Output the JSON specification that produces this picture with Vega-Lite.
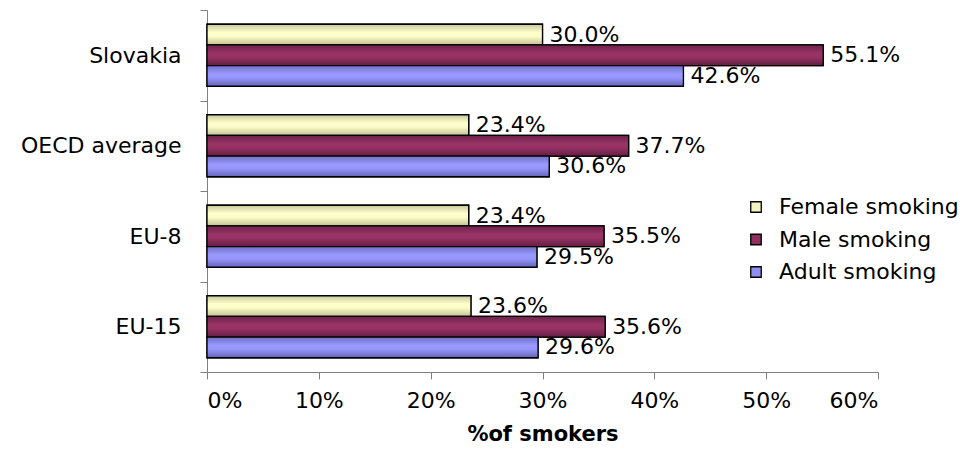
{
  "$schema": "https://vega.github.io/schema/vega-lite/v6.json",
  "width": 671,
  "height": 362,
  "autosize": {"type": "none"},
  "padding": {"left": 207, "top": 10, "right": 89, "bottom": 78},
  "background": "white",
  "config": {
    "view": {"stroke": null},
    "font": "DejaVu Sans",
    "axis": {"labelFont": "DejaVu Sans", "titleFont": "DejaVu Sans", "labelColor": "black", "titleColor": "black"},
    "legend": {"labelFont": "DejaVu Sans"}
  },
  "data": {
    "values": [
      {"region": "Slovakia", "series": "Female smoking", "value": 0.300},
      {"region": "Slovakia", "series": "Male smoking", "value": 0.551},
      {"region": "Slovakia", "series": "Adult smoking", "value": 0.426},
      {"region": "OECD average", "series": "Female smoking", "value": 0.234},
      {"region": "OECD average", "series": "Male smoking", "value": 0.377},
      {"region": "OECD average", "series": "Adult smoking", "value": 0.306},
      {"region": "EU-8", "series": "Female smoking", "value": 0.234},
      {"region": "EU-8", "series": "Male smoking", "value": 0.355},
      {"region": "EU-8", "series": "Adult smoking", "value": 0.295},
      {"region": "EU-15", "series": "Female smoking", "value": 0.236},
      {"region": "EU-15", "series": "Male smoking", "value": 0.356},
      {"region": "EU-15", "series": "Adult smoking", "value": 0.296}
    ]
  },
  "encoding": {
    "y": {
      "field": "region",
      "type": "nominal",
      "sort": ["Slovakia", "OECD average", "EU-8", "EU-15"],
      "scale": {"paddingInner": 0, "paddingOuter": 0},
      "axis": {
        "title": null,
        "tickBand": "extent",
        "domainColor": "#808080",
        "tickColor": "#808080",
        "tickSize": 7,
        "labelFontSize": 22,
        "labelPadding": 19,
        "labelLimit": 250
      }
    },
    "yOffset": {
      "field": "series",
      "type": "nominal",
      "sort": ["Female smoking", "Male smoking", "Adult smoking"],
      "scale": {"paddingInner": 0, "paddingOuter": 0.689}
    },
    "x": {
      "field": "value",
      "type": "quantitative",
      "scale": {"domain": [0, 0.6], "nice": false},
      "axis": {
        "title": "%of smokers",
        "values": [0, 0.1, 0.2, 0.3, 0.4, 0.5, 0.6],
        "format": ".0%",
        "grid": false,
        "domainColor": "#808080",
        "tickColor": "#808080",
        "tickSize": 7,
        "labelFontSize": 22,
        "labelPadding": 11,
        "titleFontSize": 21,
        "titleFontWeight": "bold",
        "titlePadding": 12
      }
    }
  },
  "layer": [
    {
      "mark": {"type": "bar", "stroke": "black", "strokeWidth": 1.3},
      "encoding": {
        "color": {
          "field": "series",
          "type": "nominal",
          "sort": ["Female smoking", "Male smoking", "Adult smoking"],
          "scale": {
            "domain": ["Female smoking", "Male smoking", "Adult smoking"],
            "range": ["#F4F4C0", "#8E2F5E", "#8F8FF0"]
          },
          "legend": {
            "title": null,
            "orient": "none",
            "legendX": 538,
            "legendY": 186,
            "symbolType": "square",
            "symbolSize": 110,
            "symbolStrokeColor": "black",
            "symbolStrokeWidth": 1.3,
            "symbolOpacity": 1,
            "labelFontSize": 22,
            "labelOffset": 12,
            "labelLimit": 300,
            "rowPadding": 10.5,
            "padding": 0
          }
        }
      }
    },
    {
      "mark": {"type": "bar", "stroke": "black", "strokeWidth": 1.3},
      "encoding": {
        "fill": {
          "condition": [
            {"test": "datum.series === 'Female smoking'", "value": {"gradient": "linear", "x1": 0, "y1": 0, "x2": 0, "y2": 1, "stops": [{"offset": 0, "color": "#c8c89c"}, {"offset": 0.4, "color": "#ffffcc"}, {"offset": 0.6, "color": "#fbfbc6"}, {"offset": 1, "color": "#c0c094"}]}},
            {"test": "datum.series === 'Male smoking'", "value": {"gradient": "linear", "x1": 0, "y1": 0, "x2": 0, "y2": 1, "stops": [{"offset": 0, "color": "#6e2249"}, {"offset": 0.4, "color": "#993366"}, {"offset": 0.6, "color": "#953263"}, {"offset": 1, "color": "#641e42"}]}}
          ],
          "value": {"gradient": "linear", "x1": 0, "y1": 0, "x2": 0, "y2": 1, "stops": [{"offset": 0, "color": "#6f6fc4"}, {"offset": 0.4, "color": "#9999ff"}, {"offset": 0.6, "color": "#9595fa"}, {"offset": 1, "color": "#6464b8"}]}
        }
      }
    },
    {
      "mark": {"type": "text", "align": "left", "baseline": "middle", "dx": 7, "fontSize": 22, "color": "black"},
      "encoding": {
        "text": {"field": "value", "type": "quantitative", "format": ".1%"}
      }
    }
  ]
}
